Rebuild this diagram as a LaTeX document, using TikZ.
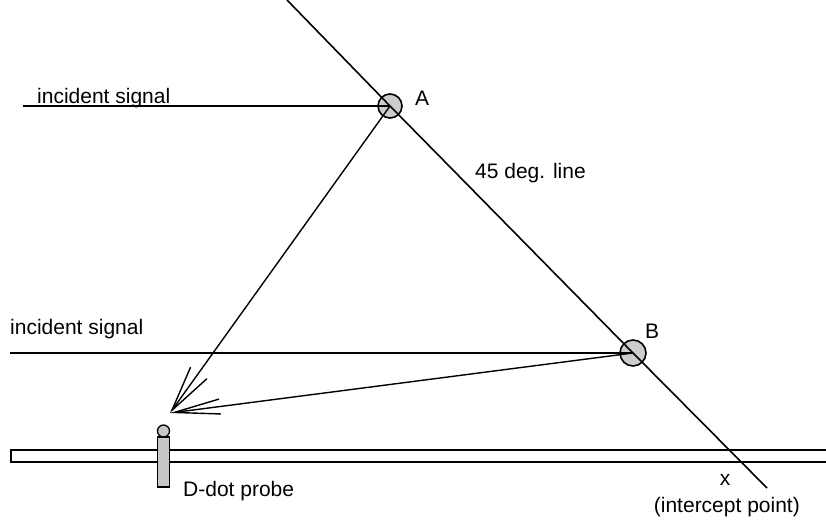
\documentclass[tikz,border=0pt]{standalone}
\usepackage{fontspec}
\setmainfont{Liberation Sans}
\usetikzlibrary{arrows.meta}
\begin{document}
\begin{tikzpicture}[x=1pt,y=-1pt,
  lbl/.style={inner sep=0pt,font=\fontsize{21}{24}\selectfont},
  ln/.style={line width=1.6pt},
  arr/.style={line width=1.4pt,-{Straight Barb[length=46pt,width=#1,line width=1.4pt]}},
  ball/.style={circle,draw,line width=1.6pt,fill=gray!40,minimum size=24pt,inner sep=0pt}]
\useasboundingbox (0,0) rectangle (826,524);
\begin{scope}
\clip (0,0) rectangle (826,524);
% tube
\draw[line width=1.4pt] (840,450) -- (11,450) -- (11,462) -- (840,462);
% probe
\node[draw,line width=1.3pt,fill=gray!45,minimum width=12pt,minimum height=50pt,inner sep=0pt] (probe) at (163.5,462) {};
\node[circle,draw,line width=1.3pt,fill=gray!45,minimum size=12pt,inner sep=0pt] (probetop) at (163.5,431) {};
% balls
\node[ball] (A) at (390,106) {};
\node[ball,minimum height=26pt] (B) at (633,353) {};
\coordinate (top) at (287,0);
\coordinate (end) at (767,488);
\coordinate (tip) at (170,413);
\coordinate (inA) at (23,106);
\coordinate (inB) at (10,353);
\draw[ln] (top) -- (A.center) -- (B.center) -- (end);
\draw[ln] (inA) -- (A.center);
\draw[ln] (inB) -- (B.center);
\draw[arr=20pt] (A.center) -- (tip);
\draw[arr=15pt] (B.center) -- (tip);
\end{scope}
% labels
\node[lbl,anchor=base west] (t1) at (37,103) {incident signal};
\node[lbl,anchor=base west] (t2) at (10,334) {incident signal};
\node[lbl,anchor=base west] (la) at (415,106) {A};
\node[lbl,anchor=base west] (lb) at (645,338) {B};
\node[lbl,anchor=base west] (l45) at (475,178) {45 deg. line};
\node[lbl,anchor=base west] (ld) at (183,496) {D-dot probe};
\node[lbl,anchor=base] (lx) at (725,485) {x};
\node[lbl,anchor=base east] (li) at (800,512) {(intercept point)};
\end{tikzpicture}
\end{document}
